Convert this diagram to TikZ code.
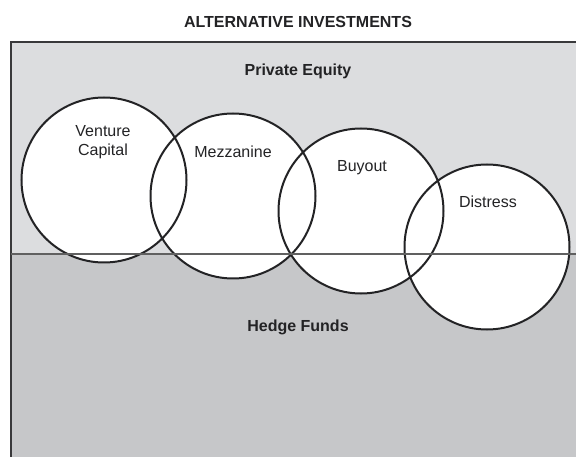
\documentclass[tikz,border=0pt]{standalone}
\usepackage{fontspec}
\setmainfont{Liberation Sans}
\usepackage{tikz}

\definecolor{peGray}{RGB}{220,221,223}
\definecolor{hfGray}{RGB}{198,199,201}
\definecolor{inkGray}{RGB}{35,35,37}

\begin{document}
\begin{tikzpicture}[x=1pt,y=-1pt,
    fund/.style={circle,minimum size=165pt,inner sep=0pt,fill=white},
    rim/.style={draw=inkGray,line width=2pt},
    lbl/.style={text=inkGray,font=\fontsize{16}{19.5}\selectfont,align=center},
    head/.style={text=inkGray,font=\fontsize{16}{17}\selectfont\bfseries}]
  \useasboundingbox (0,0) rectangle (576,457);
  % the two bands
  \fill[peGray] (11,42) rectangle (576,254);
  \fill[hfGray] (11,254) rectangle (576,457);
  \draw[inkGray!90,line width=2.2pt] (11,457) -- (11,42) -- (576,42);
  \node[head] (title) at (298,22) {ALTERNATIVE INVESTMENTS};
  \node[head] (pe) at (298,71) {Private Equity};
  \node[head] (hf) at (298,327) {Hedge Funds};
  % circles, filled first then outlined
  \node[fund] (vc) at (104,180) {};
  \node[fund] (mz) at (233,196) {};
  \node[fund] (bo) at (361,211) {};
  \node[fund] (ds) at (487,247) {};
  \foreach \c in {vc,mz,bo,ds}
    \draw[rim] (\c) circle (82.5pt);
  \draw[gray!75!black,line width=1.2pt] (11,254) coordinate (split) -- (576,254);
  \node[lbl] (vclbl) at (103,142) {Venture\\Capital};
  \node[lbl] (mzlbl) at (233,152) {Mezzanine};
  \node[lbl] (bolbl) at (362,168) {Buyout};
  \node[lbl] (dslbl) at (488,202) {Distress};
\end{tikzpicture}
\end{document}
